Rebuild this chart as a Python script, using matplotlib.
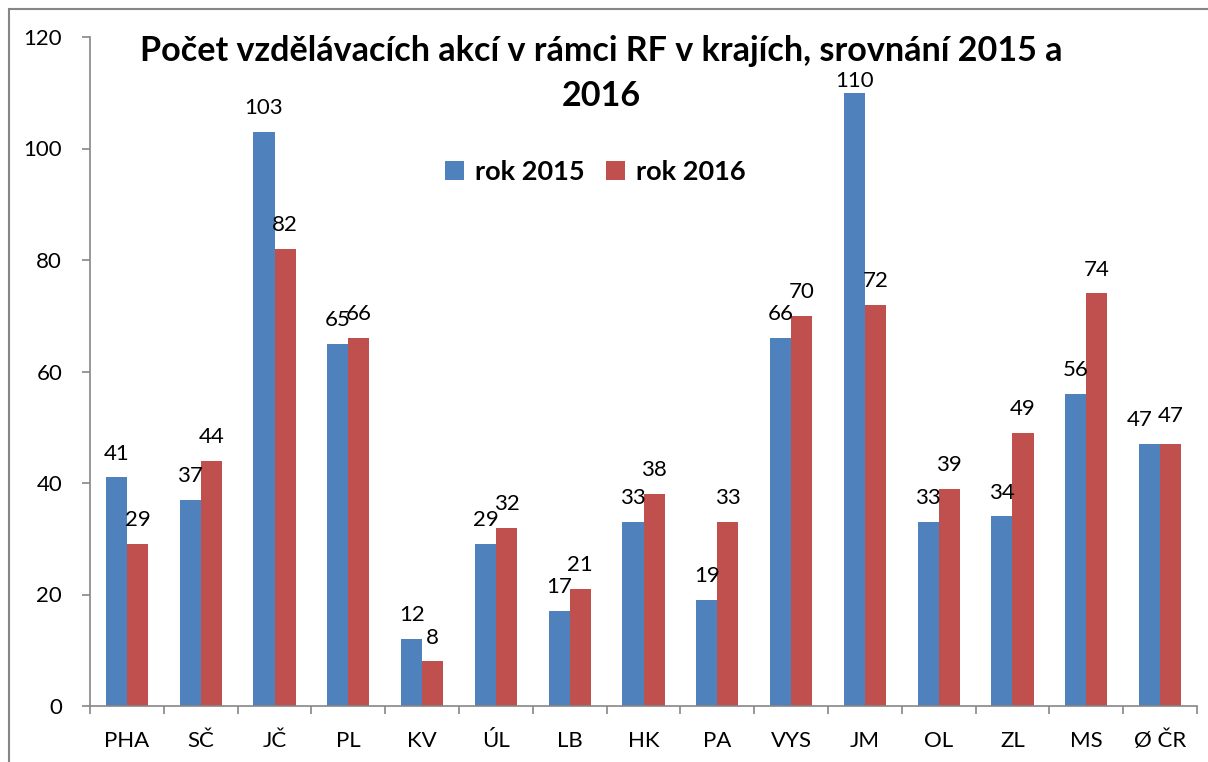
import matplotlib.pyplot as plt
import numpy as np
from matplotlib.patches import Rectangle

# data
regions = ['PHA', 'SČ', 'JČ', 'PL', 'KV', 'ÚL', 'LB', 'HK', 'PA', 'VYS', 'JM', 'OL', 'ZL', 'MS', 'Ø ČR']
rok2015 = [41, 37, 103, 65, 12, 29, 17, 33, 19, 66, 110, 33, 34, 56, 47]
rok2016 = [29, 44, 82, 66, 8, 32, 21, 38, 33, 70, 72, 39, 49, 74, 47]

blue = '#4F81BD'
red = '#C0504D'
gray = '#868686'

plt.rcParams['font.family'] = ['Lato', 'DejaVu Sans']

fig = plt.figure(figsize=(12.08, 7.62), dpi=100)
ax = fig.add_axes([90/1208, 56/762, (1197-90)/1208, (706-37)/762])

# outer chart frame (right/bottom edges fall off the picture)
fig.patches.append(Rectangle((9/1208, -0.1), 1.2, 1 - 9/762 + 0.1,
                             transform=fig.transFigure, fill=False,
                             edgecolor=gray, linewidth=1.5))

x = np.arange(len(regions))
w = 0.285
b1 = ax.bar(x - w/2, rok2015, w, color=blue, label='rok 2015')
b2 = ax.bar(x + w/2, rok2016, w, color=red, label='rok 2016')

for i, (v1, v2) in enumerate(zip(rok2015, rok2016)):
    # labels near the top get squeezed under the title, like in excel
    dy1 = 1 if v1 > 105 else 10
    dy2 = 1 if v2 > 105 else 10
    dx = 0
    if v1 == v2:
        dx, dy2 = 7, dy2 + 3
    ax.annotate(str(v1), (x[i] - w/2, v1), xytext=(-dx, dy1), textcoords='offset points',
                ha='center', va='bottom', fontsize=16)
    ax.annotate(str(v2), (x[i] + w/2, v2), xytext=(0, dy2), textcoords='offset points',
                ha='center', va='bottom', fontsize=16)

ax.set_xlim(-0.5, len(regions) - 0.5)
ax.set_ylim(0, 120)
ax.set_yticks(range(0, 121, 20))
ax.set_xticks(x)
ax.set_xticklabels(regions)
ax.set_xticks(np.arange(-0.5, len(regions), 1), minor=True)
ax.tick_params(axis='x', which='major', length=0, pad=18, labelsize=16)
ax.tick_params(axis='x', which='minor', length=6, color=gray, width=1.2)
ax.tick_params(axis='y', length=6, color=gray, width=1.2, labelsize=16, pad=14)
for s in ('top', 'right'):
    ax.spines[s].set_visible(False)
for s in ('left', 'bottom'):
    ax.spines[s].set_color(gray)
    ax.spines[s].set_linewidth(1.2)

fig.text(601/1208, 1 - 51/762, 'Počet vzdělávacích akcí v rámci RF v krajích, srovnání 2015 a',
         ha='center', va='center', fontsize=24.6, fontweight='bold')
fig.text(601/1208, 1 - 96/762, '2016',
         ha='center', va='center', fontsize=24.6, fontweight='bold')

ax.legend(loc='center', bbox_to_anchor=(595/1208, 1 - 172/762), bbox_transform=fig.transFigure,
          ncol=2, frameon=False, prop={'size': 19.5, 'weight': 'bold'},
          handlelength=0.7, handleheight=0.7, handletextpad=0.4, columnspacing=0.8)

fig.savefig('out.png', dpi=100)
